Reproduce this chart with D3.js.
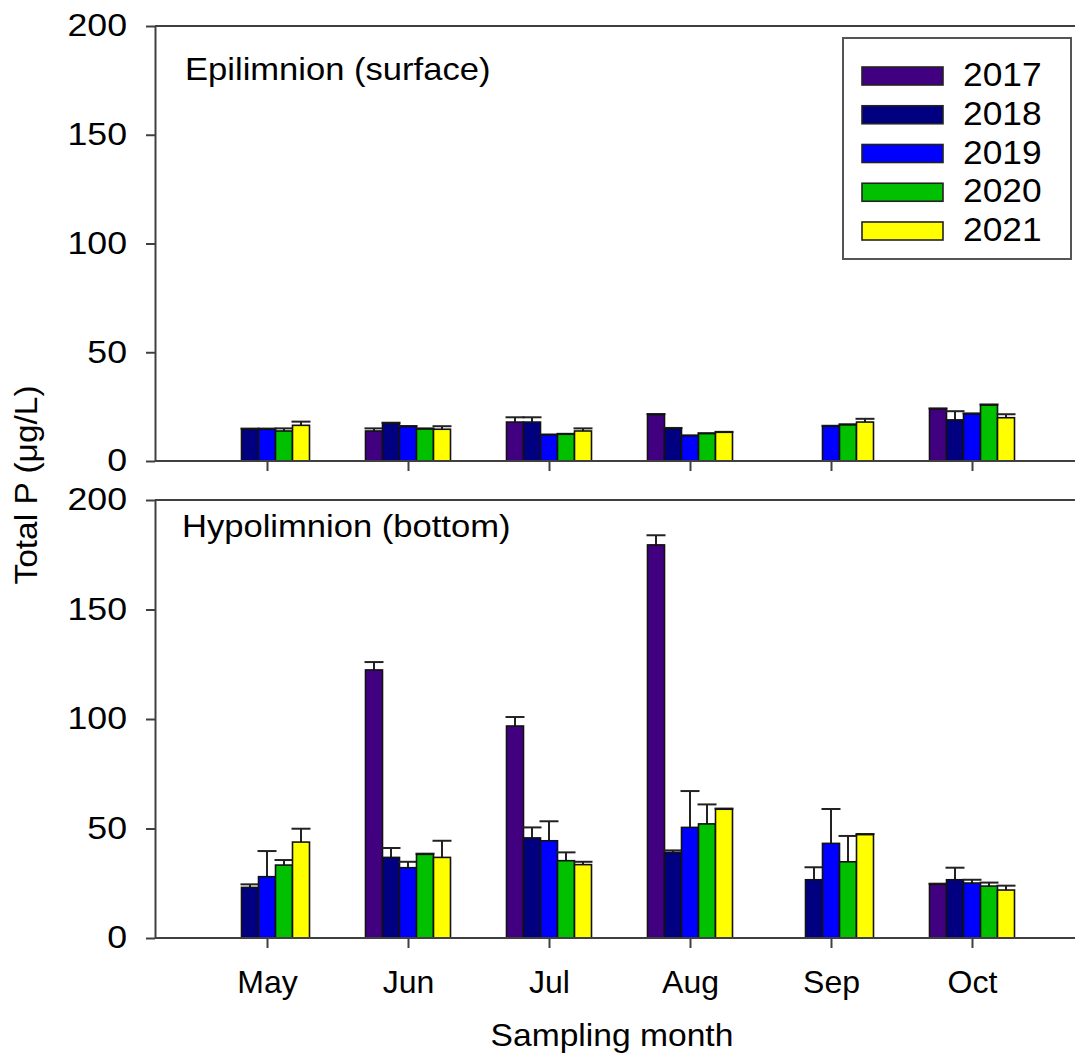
<!DOCTYPE html>
<html>
<head>
<meta charset="utf-8">
<script src="https://cdn.jsdelivr.net/npm/d3@7"></script>
<style>
  body { margin: 0; background: #fff; }
  text { font-family: "Liberation Sans", Arial, sans-serif; fill: #000; }
</style>
</head>
<body>
<svg id="chart" width="1075" height="1057"></svg>
<script>
// Sampling months and years
const months = ["May", "Jun", "Jul", "Aug", "Sep", "Oct"];
const years = ["2017", "2018", "2019", "2020", "2021"];
const yTicks = [0, 50, 100, 150, 200];

// Epilimnion (surface) total P means, µg/L (null = not sampled)
const epi2017 = [null, 13.8, 17.9, 21.3, null, 23.9];
const epi2018 = [14.6, 17.3, 17.9, 14.9, null, 18.9];
const epi2019 = [14.6, 15.8, 12.0, 11.6, 16.0, 21.6];
const epi2020 = [13.8, 14.7, 12.3, 12.6, 16.6, 25.7];
const epi2021 = [16.4, 14.6, 13.8, 13.2, 17.9, 19.9];

// Epilimnion standard errors
const epiErr2017 = [null, 1.2, 2.2, 0.3, null, 0.3];
const epiErr2018 = [0.3, 0.3, 2.2, 0.3, null, 4.0];
const epiErr2019 = [0.3, 0.3, 0.2, 0.2, 0.2, 0.3];
const epiErr2020 = [1.2, 0.3, 0.2, 0.2, 0.3, 0.3];
const epiErr2021 = [1.7, 1.4, 1.2, 0.2, 1.5, 1.6];

// Hypolimnion (bottom) total P means, µg/L
const hypo2017 = [null, 122.4, 96.8, 179.5, null, 24.5];
const hypo2018 = [23.1, 36.8, 45.7, 39.1, 26.6, 26.6];
const hypo2019 = [28.0, 32.1, 44.4, 50.5, 43.2, 25.1];
const hypo2020 = [33.3, 38.2, 35.3, 52.1, 34.8, 23.7];
const hypo2021 = [43.8, 36.8, 33.5, 58.8, 47.2, 21.9];

// Hypolimnion standard errors
const hypoErr2017 = [null, 3.6, 4.1, 4.4, null, 0.3];
const hypoErr2018 = [1.4, 4.3, 4.8, 0.9, 5.7, 5.5];
const hypoErr2019 = [11.7, 2.7, 8.9, 16.6, 15.7, 1.5];
const hypoErr2020 = [2.3, 0.3, 3.8, 8.9, 11.8, 1.6];
const hypoErr2021 = [6.1, 7.6, 1.3, 0.3, 0.3, 2.0];

const yearColors = ["#400080", "#000080", "#0000ff", "#00c000", "#ffff00"];

const panels = [
  { name: "Epilimnion (surface)", means: [epi2017, epi2018, epi2019, epi2020, epi2021],
    errs: [epiErr2017, epiErr2018, epiErr2019, epiErr2020, epiErr2021],
    top: 26, bottom: 461, labelX: 185, labelY: 80, monthLabels: false },
  { name: "Hypolimnion (bottom)", means: [hypo2017, hypo2018, hypo2019, hypo2020, hypo2021],
    errs: [hypoErr2017, hypoErr2018, hypoErr2019, hypoErr2020, hypoErr2021],
    top: 500, bottom: 938, labelX: 182, labelY: 537, monthLabels: true }
];

const left = 155, right = 1075;
const axisColor = "#404040";
const svg = d3.select("#chart");

// widen glyphs a little without changing their height
function widen(sel, k) {
  sel.each(function () {
    const w = this.getComputedTextLength();
    d3.select(this).attr("textLength", w * k).attr("lengthAdjust", "spacingAndGlyphs");
  });
}

const x = d3.scalePoint().domain(months).range([267, 972]);
const xInner = d3.scaleBand().domain(years).range([-42.5, 42.5]);
const capHalf = 9.5;

panels.forEach(p => {
  const y = d3.scaleLinear().domain([0, 200]).range([p.bottom, p.top]);
  const g = svg.append("g");

  // bars and upper error bars, one series at a time
  years.forEach((yr, si) => {
    const sg = g.append("g");
    const rows = months.map((m, mi) => ({ m, v: p.means[si][mi], e: p.errs[si][mi] }))
                       .filter(d => d.v != null);
    rows.forEach(d => {
      const cx = x(d.m) + xInner(yr) + xInner.bandwidth() / 2;
      if (d.e) {
        sg.append("line")
          .attr("x1", cx).attr("x2", cx)
          .attr("y1", y(d.v)).attr("y2", y(d.v + d.e))
          .attr("stroke", "#222").attr("stroke-width", 2);
        sg.append("line")
          .attr("x1", cx - capHalf).attr("x2", cx + capHalf)
          .attr("y1", y(d.v + d.e)).attr("y2", y(d.v + d.e))
          .attr("stroke", "#222").attr("stroke-width", 2);
      }
    });
    sg.selectAll("rect").data(rows).join("rect")
      .attr("x", d => x(d.m) + xInner(yr))
      .attr("width", xInner.bandwidth())
      .attr("y", d => y(d.v))
      .attr("height", d => y(0) - y(d.v))
      .attr("fill", yearColors[si])
      .attr("stroke", "#111")
      .attr("stroke-width", 1.6);
  });

  // frame: top line and baseline
  g.append("line").attr("x1", left).attr("x2", right)
    .attr("y1", p.top).attr("y2", p.top)
    .attr("stroke", axisColor).attr("stroke-width", 2);
  g.append("line").attr("x1", left).attr("x2", right)
    .attr("y1", p.bottom).attr("y2", p.bottom)
    .attr("stroke", axisColor).attr("stroke-width", 2);

  // y axis
  const ya = g.append("g").attr("transform", `translate(${left},0)`)
    .call(d3.axisLeft(y).tickValues(yTicks).tickSize(9).tickSizeOuter(0).tickPadding(19));
  ya.select(".domain").attr("stroke", axisColor).attr("stroke-width", 2);
  ya.selectAll(".tick line").attr("stroke", axisColor).attr("stroke-width", 2);
  ya.selectAll(".tick text").attr("font-size", 31).attr("fill", "#000")
    .style("font-family", '"Liberation Sans", Arial, sans-serif');
  widen(ya.selectAll(".tick text"), 1.15);

  // x axis ticks (month labels on the lower panel only)
  const xa = g.append("g").attr("transform", `translate(0,${p.bottom})`)
    .call(d3.axisBottom(x).tickSize(10).tickSizeOuter(0).tickPadding(22)
      .tickFormat(p.monthLabels ? d => d : () => ""));
  xa.select(".domain").remove();
  xa.selectAll(".tick line").attr("stroke", axisColor).attr("stroke-width", 2);
  xa.selectAll(".tick text").attr("font-size", 32).attr("fill", "#000")
    .style("font-family", '"Liberation Sans", Arial, sans-serif');

  // panel title
  widen(g.append("text").attr("x", p.labelX).attr("y", p.labelY)
    .attr("font-size", 32).text(p.name), 1.08);
});

// legend
const lg = svg.append("g");
lg.append("rect").attr("x", 843).attr("y", 38).attr("width", 228).attr("height", 221)
  .attr("fill", "#fff").attr("stroke", "#555").attr("stroke-width", 2);
const legendRow = d3.scalePoint().domain(years).range([76, 231]);
years.forEach((yr, i) => {
  lg.append("rect").attr("x", 862).attr("y", legendRow(yr) - 9)
    .attr("width", 81).attr("height", 18)
    .attr("fill", yearColors[i]).attr("stroke", "#222").attr("stroke-width", 1.6);
  widen(lg.append("text").attr("x", 963).attr("y", legendRow(yr) + 10)
    .attr("font-size", 33).text(yr), 1.07);
});

// axis titles
widen(svg.append("text").attr("x", 612).attr("y", 1046).attr("text-anchor", "middle")
  .attr("font-size", 32).text("Sampling month"), 1.05);
widen(svg.append("text").attr("transform", "translate(37,485) rotate(-90)")
  .attr("text-anchor", "middle").attr("font-size", 31).text("Total P (μg/L)"), 1.08);
</script>
</body>
</html>
